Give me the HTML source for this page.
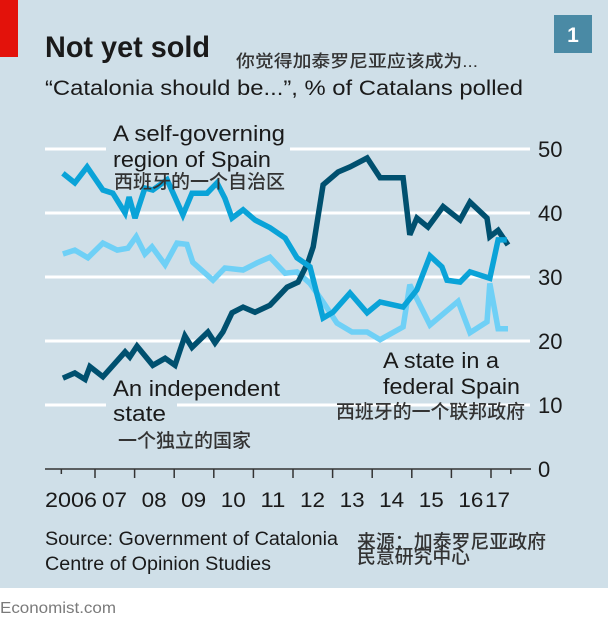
<!DOCTYPE html>
<html><head><meta charset="utf-8"><style>
html,body{margin:0;padding:0;background:#fff;}
svg{display:block;}
text{font-family:"Liberation Sans","Noto Sans CJK SC",sans-serif;}
.cjk{font-family:"Liberation Sans","Noto Sans CJK SC",sans-serif;font-weight:500;fill:#333;}
</style></head><body>
<svg id="chart" width="608" height="625" viewBox="0 0 608 625" xmlns="http://www.w3.org/2000/svg">
<rect x="0" y="0" width="608" height="588" fill="#cfdfe8"/>
<rect x="0" y="0" width="18" height="57" fill="#e3120b"/>
<text x="45" y="57" font-size="30" font-weight="bold" fill="#1a1a1a" textLength="165" lengthAdjust="spacingAndGlyphs">Not yet sold</text>
<text class="cjk" x="236" y="67" font-size="17" textLength="242" lengthAdjust="spacingAndGlyphs">你觉得加泰罗尼亚应该成为...</text>
<text x="45" y="95" font-size="21" fill="#1a1a1a" textLength="478" lengthAdjust="spacingAndGlyphs">“Catalonia should be...”, % of Catalans polled</text>
<rect x="554" y="15" width="38" height="38" fill="#4a8aa5"/>
<text x="573" y="42" font-size="21" font-weight="bold" fill="#fff" text-anchor="middle">1</text>
<g id="grid"></g>
<g id="axis"></g>
<g id="lines"></g>
<g id="labels">
<rect x="106" y="140" width="184" height="14" fill="#cfdfe8"/>
<rect x="106" y="398" width="71" height="14" fill="#cfdfe8"/>
<text x="113" y="141" font-size="22" fill="#1a1a1a" textLength="172" lengthAdjust="spacingAndGlyphs">A self-governing</text>
<text x="113" y="167" font-size="22" fill="#1a1a1a" textLength="158" lengthAdjust="spacingAndGlyphs">region of Spain</text>
<text class="cjk" x="114" y="188" font-size="19" textLength="171" lengthAdjust="spacingAndGlyphs">西班牙的一个自治区</text>
<text x="113" y="396" font-size="22" fill="#1a1a1a" textLength="167" lengthAdjust="spacingAndGlyphs">An independent</text>
<text x="113" y="421" font-size="22" fill="#1a1a1a" textLength="53" lengthAdjust="spacingAndGlyphs">state</text>
<text class="cjk" x="118" y="447" font-size="19" textLength="133" lengthAdjust="spacingAndGlyphs">一个独立的国家</text>
<text x="383" y="368" font-size="22" fill="#1a1a1a" textLength="116" lengthAdjust="spacingAndGlyphs">A state in a</text>
<text x="383" y="394" font-size="22" fill="#1a1a1a" textLength="137" lengthAdjust="spacingAndGlyphs">federal Spain</text>
<text class="cjk" x="336" y="418" font-size="19" textLength="189" lengthAdjust="spacingAndGlyphs">西班牙的一个联邦政府</text>
</g>
<text x="45" y="545" font-size="19" fill="#1a1a1a" textLength="293" lengthAdjust="spacingAndGlyphs">Source: Government of Catalonia</text>
<text x="45" y="570" font-size="19" fill="#1a1a1a" textLength="226" lengthAdjust="spacingAndGlyphs">Centre of Opinion Studies</text>
<text class="cjk" x="357" y="548" font-size="19" textLength="189" lengthAdjust="spacingAndGlyphs">来源：加泰罗尼亚政府</text>
<text class="cjk" x="357" y="563" font-size="19" textLength="113" lengthAdjust="spacingAndGlyphs">民意研究中心</text>
<text x="0" y="613" font-size="16" fill="#7a7a7a" textLength="116" lengthAdjust="spacingAndGlyphs">Economist.com</text>
</svg>
<script>
const yTicks = [0, 10, 20, 30, 40, 50];
const xTickYears = [2007, 2008, 2009, 2010, 2011, 2012, 2013, 2014, 2015, 2016, 2017];
const xLabels = ["2006", "07", "08", "09", "10", "11", "12", "13", "14", "15", "16", "17"];
const xLabelStarts = [2006, 2007, 2008, 2009, 2010, 2011, 2012, 2013, 2014, 2015, 2016, 2017];

const indepT = [2006.19,2006.49,2006.75,2006.87,2007.2,2007.76,2007.88,2008.06,2008.46,2008.77,2009.02,2009.27,2009.45,2009.85,2010.03,2010.23,2010.46,2010.74,2011.04,2011.42,2011.85,2012.13,2012.38,2012.51,2012.76,2013.14,2013.44,2013.87,2014.2,2014.78,2014.95,2015.13,2015.41,2015.79,2016.22,2016.47,2016.9,2016.97,2017.18,2017.43];
const indepV = [14.2,15,14,16,14.4,18.3,17.5,19.2,16.2,17.3,16.2,20.8,19,21.4,19.7,21.4,24.4,25.3,24.5,25.6,28.4,29.2,32.3,34.7,44.4,46.4,47.2,48.6,45.5,45.5,36.6,39.2,37.8,41,38.9,41.7,39.2,36.3,37.3,35];

const selfT = [2006.19,2006.49,2006.8,2007.2,2007.45,2007.76,2007.86,2008.01,2008.26,2008.46,2008.82,2009.22,2009.45,2009.83,2010.08,2010.28,2010.46,2010.74,2011.04,2011.42,2011.8,2012.1,2012.43,2012.76,2013.01,2013.44,2013.87,2014.2,2014.78,2015.13,2015.46,2015.76,2015.89,2016.22,2016.47,2016.97,2017.18,2017.4];
const selfV = [46.2,44.7,47.2,43.6,43.1,40,42.5,39.2,43.9,43.6,45.2,39.7,43.1,43.1,44.7,42.3,39.2,40.5,38.9,37.7,36.1,33,31.6,23.6,24.5,27.5,24.4,26.1,25.3,28,33.3,31.6,29.5,29.2,30.8,29.8,35.8,35.8];

const fedT = [2006.19,2006.49,2006.82,2007.2,2007.56,2007.83,2008.04,2008.26,2008.44,2008.77,2009.07,2009.32,2009.47,2009.98,2010.28,2010.74,2011.09,2011.42,2011.8,2012.1,2012.43,2012.76,2013.11,2013.49,2013.87,2014.2,2014.78,2014.95,2015.46,2016.17,2016.47,2016.9,2016.97,2017.18,2017.43];
const fedV = [33.6,34.2,33,35.3,34.2,34.5,36.3,33.6,34.7,31.9,35.3,35.1,32.3,29.5,31.4,31.1,32.2,33.1,30.6,30.8,29,26.1,22.8,21.4,21.4,20.2,22.2,28.8,22.5,26.2,21.3,23,29,21.9,21.9];

const NS = "http://www.w3.org/2000/svg";
function xScale(t){ return 95 + (t - 2007) * 39.6; }
function yScale(v){ return 469 - v * 6.4; }
function mk(tag, attrs, parent){
  const el = document.createElementNS(NS, tag);
  for (const k in attrs) el.setAttribute(k, attrs[k]);
  parent.appendChild(el);
  return el;
}
const grid = document.getElementById('grid');
const axis = document.getElementById('axis');
const lines = document.getElementById('lines');

yTicks.forEach(v => {
  if (v > 0) {
    const gl = mk('line', {x1: 45, x2: 530, y1: yScale(v), y2: yScale(v), stroke: '#fff', 'stroke-width': 3}, grid);
    
    
  }
  const tl = mk('text', {x: 538, y: yScale(v) + 8, 'font-size': 22, fill: '#1a1a1a'}, axis);
  tl.textContent = v;
  
  
});

const base = mk('line', {x1: 45, x2: 531, y1: yScale(0), y2: yScale(0), stroke: '#333', 'stroke-width': 1.5}, axis);



[2006.15].concat(xTickYears).concat([2017.5]).forEach((yr, i, arr) => {
  const short = (i === 0 || i === arr.length - 1);
  const tk = mk('line', {x1: xScale(yr), x2: xScale(yr), y1: yScale(0), y2: yScale(0) + (short ? 5 : 9), stroke: '#333', 'stroke-width': 1.5}, axis);
  
  
});

xLabels.forEach((lab, i) => {
  const x = i === 0 ? 45 : xScale(xLabelStarts[i]) + 7;
  const t = mk('text', {x: i === xLabels.length - 1 ? x - 13 : x, y: 507, 'font-size': 21, fill: '#1a1a1a', textLength: lab.length === 4 ? 52 : 25, lengthAdjust: 'spacingAndGlyphs'}, axis);
  t.textContent = lab;
  
  
});

function drawLine(ts, vs, color, name){
  const d = ts.map((t, i) => (i ? 'L' : 'M') + xScale(t).toFixed(1) + ' ' + yScale(vs[i]).toFixed(1)).join(' ');
  const p = mk('path', {d: d, fill: 'none', stroke: color, 'stroke-width': 5.5, 'stroke-linejoin': 'miter', 'stroke-miterlimit': 3}, lines);
  
  
}
drawLine(fedT, fedV, '#6fd0f6', 'line-federal-state');
drawLine(indepT, indepV, '#00506f', 'line-independent-state');
drawLine(selfT, selfV, '#0aa3d8', 'line-self-governing');
</script>
</body></html>
